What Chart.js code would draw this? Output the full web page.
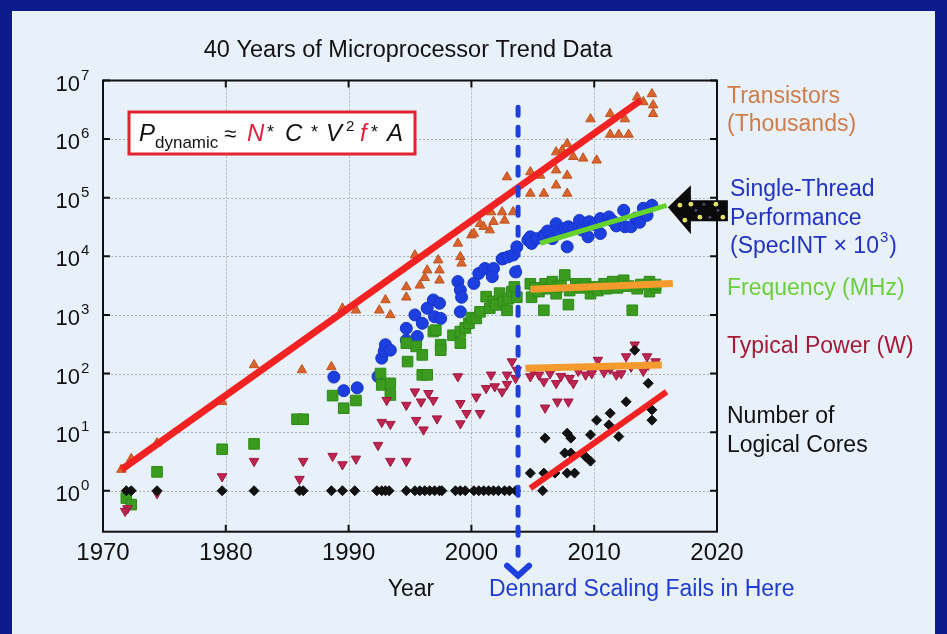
<!DOCTYPE html>
<html>
<head>
<meta charset="utf-8">
<script src="https://cdn.jsdelivr.net/npm/chart.js@4.4.1/dist/chart.umd.min.js"></script>
<style>
html,body{margin:0;padding:0;background:#0d1a8a;}
canvas{display:block;}
</style>
</head>
<body>
<canvas id="c" width="947" height="634"></canvas>
<script>
// axis ticks
const yearTicks = [1970, 1980, 1990, 2000, 2010, 2020];
const decadeExps = [0, 1, 2, 3, 4, 5, 6, 7];

// [year, value]
const transistors = [[1971.5,2.3],[1972.3,3.5],[1974.4,6.5],[1979.7,33],[1982.3,140],[1986.2,115],[1988.6,130],[1989.5,1300],[1990.6,1200],[1992.5,1200],[1993.0,1800],[1993.4,1000],[1994.7,3000],[1994.7,2000],[1995.4,10500],[1995.8,3200],[1996.2,4300],[1996.4,5800],[1997.3,8600],[1997.4,5800],[1997.4,3900],[1998.9,16600],[1999.1,9800],[1999.2,7600],[2000.0,23000],[2000.2,24500],[2000.7,36000],[2001.0,32000],[2001.5,28000],[2001.6,57000],[2001.8,39000],[2002.5,57000],[2002.7,41000],[2003.4,57000],[2002.9,225000],[2004.8,275000],[2004.8,118000],[2005.6,240000],[2005.9,118000],[2006.9,163000],[2006.9,295000],[2006.9,600000],[2007.4,650000],[2007.8,830000],[2007.8,240000],[2007.8,118000],[2008.3,500000],[2009.1,470000],[2009.7,2200000],[2010.2,435000],[2011.3,2700000],[2011.3,1200000],[2012.0,1200000],[2012.5,2200000],[2012.8,1200000],[2013.5,5200000],[2014.0,4300000],[2014.7,5900000],[2014.8,3800000],[2014.8,2700000]];
const singleThread = [[1988.8,87],[1989.6,51],[1990.7,57],[1992.4,89],[1992.7,183],[1992.9,240],[1993.0,310],[1993.4,250],[1994.7,590],[1994.7,370],[1995.4,1000],[1995.6,430],[1996.0,720],[1996.4,1300],[1996.9,1800],[1997.0,930],[1997.4,1580],[1997.5,870],[1998.9,3700],[1999.1,2650],[1999.2,2000],[1999.1,1130],[2000.2,3450],[2000.6,5100],[2001.1,6200],[2001.8,6200],[2001.7,4500],[2002.5,9000],[2002.6,9200],[2003.0,9800],[2003.4,10500],[2003.6,5400],[2003.7,14500],[2004.6,19000],[2004.8,21500],[2004.9,16600],[2005.3,20000],[2005.9,23000],[2006.2,27000],[2006.6,20000],[2006.9,36000],[2007.2,25000],[2007.6,30000],[2007.8,14500],[2007.9,32000],[2008.3,30000],[2008.8,41000],[2009.0,28000],[2009.5,21500],[2009.6,39000],[2010.0,35000],[2010.5,44000],[2010.5,24500],[2011.2,47000],[2011.5,40000],[2011.8,33000],[2012.4,61000],[2012.5,32000],[2013.0,32000],[2013.4,45000],[2013.7,38000],[2014.0,66000],[2014.3,50000],[2014.7,74000]];
const frequency = [[1971.9,0.75],[1972.3,0.58],[1974.4,2.1],[1979.7,5.1],[1982.3,6.3],[1985.8,16.6],[1986.3,16.6],[1988.7,42],[1989.6,25.6],[1990.6,34.7],[1992.6,100],[1992.7,64],[1993.4,68],[1993.4,43],[1994.7,330],[1994.8,160],[1995.5,290],[1996.0,208],[1996.0,95],[1996.4,95],[1996.9,520],[1997.1,550],[1997.5,310],[1997.5,250],[1998.5,450],[1999.1,520],[1999.1,330],[1999.5,600],[1999.8,720],[2000.0,900],[2000.4,870],[2000.7,1130],[2001.2,2050],[2001.5,1300],[2001.8,1700],[2002.0,1480],[2002.3,2350],[2002.6,1700],[2002.9,1200],[2003.0,1900],[2003.3,2500],[2003.5,3000],[2003.7,2000],[2004.8,3400],[2004.9,2000],[2005.2,2900],[2005.5,2500],[2005.9,1200],[2006.0,3400],[2006.3,2800],[2006.6,3700],[2006.9,2300],[2007.0,3000],[2007.3,3200],[2007.6,4800],[2007.9,1500],[2008.0,2600],[2008.5,3400],[2008.9,2900],[2009.3,3400],[2009.7,2300],[2010.0,3000],[2010.3,2600],[2010.8,3400],[2011.0,2800],[2011.5,3700],[2011.9,2900],[2012.4,3900],[2012.8,3100],[2013.1,1200],[2013.5,2800],[2013.8,3300],[2014.5,3700],[2014.5,2500],[2015.0,2900],[2015.0,3300]];
const power = [[1972.0,0.5],[1971.8,0.45],[1974.4,0.9],[1979.7,1.75],[1982.3,3.2],[1986.0,1.58],[1986.3,3.2],[1988.7,3.9],[1989.5,2.8],[1990.6,3.5],[1992.4,6],[1992.7,14.8],[1993.4,13.7],[1993.1,35],[1993.4,3.2],[1994.7,3.2],[1994.7,29],[1995.4,49],[1995.5,16],[1995.9,33],[1996.1,11],[1996.5,46],[1996.9,35],[1997.2,17],[1998.9,89],[1999.1,31],[1999.1,14],[1999.6,21],[2000.4,40],[2000.7,21],[2001.2,56],[2001.6,95],[2001.9,60],[2002.5,49],[2002.9,95],[2002.9,66],[2003.3,160],[2003.6,83],[2003.7,115],[2004.8,89],[2005.0,110],[2005.5,95],[2005.9,73],[2006.0,26],[2006.4,100],[2006.9,68],[2007.0,33],[2007.3,90],[2007.9,33],[2008.0,83],[2008.3,68],[2008.7,110],[2009.3,95],[2009.8,100],[2010.3,170],[2010.8,105],[2011.3,120],[2011.8,95],[2012.2,100],[2012.6,195],[2013.0,130],[2013.3,310],[2014.0,110],[2014.3,195],[2014.4,140],[2015.0,160]];
const cores = [[1971.9,1],[1972.3,1],[1974.4,1],[1979.7,1],[1982.3,1],[1986.0,1],[1986.3,1],[1988.6,1],[1989.5,1],[1990.5,1],[1992.3,1],[1992.7,1],[1993.0,1],[1993.3,1],[1994.7,1],[1995.4,1],[1995.8,1],[1996.2,1],[1996.6,1],[1997.0,1],[1997.4,1],[1997.6,1],[1998.7,1],[1999.1,1],[1999.5,1],[2000.2,1],[2000.6,1],[2001.0,1],[2001.4,1],[2001.8,1],[2002.2,1],[2002.7,1],[2003.1,1],[2003.6,1],[2005.8,1],[2004.8,2],[2005.9,2],[2006.8,2],[2007.8,2],[2008.4,2],[2007.6,4.4],[2008.1,4.4],[2009.3,3.8],[2009.7,3.2],[2006.0,7.9],[2007.8,9.6],[2008.1,7.9],[2009.7,9],[2010.2,16],[2011.2,13.3],[2011.3,21],[2012.0,8.4],[2012.6,33],[2013.3,250],[2014.4,68],[2014.7,24],[2014.7,16]];

// trend lines
const transTrend = [[1971.5,2.3],[2013.8,4.6e6]];
const threadTrend = [[2005.6,16700],[2015.9,74000]];
const freqTrend = [[2004.8,2750],[2016.4,3450]];
const powerTrend = [[2004.4,123],[2015.5,140]];
const coreTrend = [[2004.8,1.1],[2015.9,49]];

const dennardYear = 2003.8;
const dennardTop = 3.5e6;
const arrowTip = [2016.0, 6.9e4];

const pts = a => a.map(p => ({x: p[0], y: p[1]}));
const FONT = '"Liberation Sans", Arial, Helvetica, sans-serif';

function scatter(data, style, color, edge, r, rot, order) {
  return {type: 'scatter', data: pts(data), pointStyle: style, pointRadius: r, pointRotation: rot || 0,
    backgroundColor: color, borderColor: edge, pointBorderWidth: 1, order: order};
}
function trend(data, color, w) {
  return {type: 'line', data: pts(data), borderColor: color, borderWidth: w, pointRadius: 0,
    showLine: true, fill: false, order: 0, borderCapStyle: 'butt'};
}

function txt(ctx, s, x, y, font, color, align) {
  ctx.font = font; ctx.fillStyle = color; ctx.textAlign = align || 'left'; ctx.textBaseline = 'alphabetic';
  ctx.fillText(s, x, y);
  return ctx.measureText(s).width;
}

const decor = {
  id: 'decor',
  beforeDraw(chart) {
    const {ctx, chartArea: a, scales: {x, y}} = chart;
    ctx.save();
    ctx.fillStyle = '#0d1a8a';
    ctx.fillRect(0, 0, chart.width, chart.height);
    ctx.fillStyle = '#e8f1fa';
    ctx.fillRect(12, 11, chart.width - 24, chart.height - 11);
    // dotted grid
    ctx.strokeStyle = '#a9b3bd'; ctx.lineWidth = 1; ctx.setLineDash([2, 2]);
    ctx.beginPath();
    yearTicks.slice(1, -1).forEach(t => { const px = Math.round(x.getPixelForValue(t)) + 0.5; ctx.moveTo(px, a.top); ctx.lineTo(px, a.bottom); });
    decadeExps.slice(0, -1).forEach(e => { const py = Math.round(y.getPixelForValue(Math.pow(10, e))) + 0.5; ctx.moveTo(a.left, py); ctx.lineTo(a.right, py); });
    ctx.stroke();
    ctx.restore();
  },
  afterDatasetsDraw(chart) {
    const {ctx, chartArea: a, scales: {x, y}} = chart;
    ctx.save();
    // frame + inner ticks
    ctx.strokeStyle = '#111'; ctx.lineWidth = 2;
    ctx.strokeRect(a.left, a.top, a.right - a.left, a.bottom - a.top);
    ctx.beginPath();
    yearTicks.slice(1, -1).forEach(t => { const px = x.getPixelForValue(t);
      ctx.moveTo(px, a.top); ctx.lineTo(px, a.top + 7); ctx.moveTo(px, a.bottom); ctx.lineTo(px, a.bottom - 7); });
    decadeExps.forEach(e => { const py = y.getPixelForValue(Math.pow(10, e));
      ctx.moveTo(a.left, py); ctx.lineTo(a.left + 7, py); ctx.moveTo(a.right, py); ctx.lineTo(a.right - 7, py); });
    ctx.stroke();
    // tick labels
    yearTicks.forEach(t => txt(ctx, String(t), x.getPixelForValue(t), a.bottom + 28, '24px ' + FONT, '#111', 'center'));
    decadeExps.forEach(e => { const py = y.getPixelForValue(Math.pow(10, e));
      txt(ctx, '10', 80, py + 10, '22px ' + FONT, '#111', 'right');
      txt(ctx, String(e), 81, py - 1, '15px ' + FONT, '#111', 'left'); });
    // title & axis caption
    txt(ctx, '40 Years of Microprocessor Trend Data', 408, 57, '23.5px ' + FONT, '#111', 'center');
    txt(ctx, 'Year', 411, 596, '23px ' + FONT, '#111', 'center');
    txt(ctx, 'Dennard Scaling Fails in Here', 489, 596, '23px ' + FONT, '#1f3bd2', 'left');
    // right-hand labels
    const f = '23px ' + FONT;
    txt(ctx, 'Transistors', 727, 103, f, '#cf7c4a');
    txt(ctx, '(Thousands)', 727, 131, f, '#cf7c4a');
    txt(ctx, 'Single-Thread', 730, 196, f, '#2232c4');
    txt(ctx, 'Performance', 730, 225, f, '#2232c4');
    let w = txt(ctx, '(SpecINT \u00d7 10', 730, 253, f, '#2232c4');
    let w2 = txt(ctx, '3', 730 + w + 1, 242, '15px ' + FONT, '#2232c4');
    txt(ctx, ')', 730 + w + w2 + 2, 253, f, '#2232c4');
    txt(ctx, 'Frequency (MHz)', 727, 295, f, '#6ccf3a');
    txt(ctx, 'Typical Power (W)', 727, 353, f, '#a61a36');
    txt(ctx, 'Number of', 727, 423, f, '#111');
    txt(ctx, 'Logical Cores', 727, 452, f, '#111');
    // formula box
    ctx.fillStyle = '#ffffff'; ctx.fillRect(129, 112, 286, 42);
    ctx.strokeStyle = '#e0232f'; ctx.lineWidth = 3; ctx.strokeRect(129, 112, 286, 42);
    const it = 'italic 24px ' + FONT, red = '#e3203c';
    txt(ctx, 'P', 139, 141, it, '#111');
    txt(ctx, 'dynamic', 155, 148, '17px ' + FONT, '#111');
    txt(ctx, '\u2248', 224, 141, '22px ' + FONT, '#111');
    txt(ctx, 'N', 247, 141, it, red);
    txt(ctx, '*', 267, 138, '18px ' + FONT, '#111');
    txt(ctx, 'C', 285, 141, it, '#111');
    txt(ctx, '*', 311, 138, '18px ' + FONT, '#111');
    txt(ctx, 'V', 326, 141, it, '#111');
    txt(ctx, '2', 346, 131, '15px ' + FONT, '#111');
    txt(ctx, 'f', 360, 141, it, red);
    txt(ctx, '*', 371, 138, '18px ' + FONT, '#111');
    txt(ctx, 'A', 387, 141, it, '#111');
    // Dennard dashed line + arrowhead
    const dx = x.getPixelForValue(dennardYear), dTop = y.getPixelForValue(dennardTop), dBot = a.bottom + 24;
    ctx.strokeStyle = '#1d3fe0'; ctx.lineWidth = 5; ctx.lineCap = 'round'; ctx.setLineDash([8, 12]);
    ctx.beginPath(); ctx.moveTo(dx, dTop); ctx.lineTo(dx, dBot); ctx.stroke();
    ctx.setLineDash([]); ctx.lineWidth = 6; ctx.lineJoin = 'miter';
    ctx.beginPath(); ctx.moveTo(dx - 11, dBot + 10); ctx.lineTo(dx, dBot + 20); ctx.lineTo(dx + 11, dBot + 10); ctx.stroke();
    // pointing arrow
    const tx = x.getPixelForValue(arrowTip[0]), ty = y.getPixelForValue(arrowTip[1]);
    ctx.fillStyle = '#0b0b0b';
    ctx.beginPath();
    ctx.moveTo(tx, ty); ctx.lineTo(tx + 23, ty - 22); ctx.lineTo(tx + 23, ty - 7); ctx.lineTo(tx + 60, ty - 7);
    ctx.lineTo(tx + 60, ty + 14); ctx.lineTo(tx + 23, ty + 14); ctx.lineTo(tx + 23, ty + 27); ctx.closePath(); ctx.fill();
    ctx.fillStyle = '#e6df6a';
    [[12,-2],[23,-3],[48,-3],[17,13],[32,10],[55,10]].forEach(d => { ctx.beginPath(); ctx.arc(tx + d[0], ty + d[1], 2.4, 0, Math.PI * 2); ctx.fill(); });
    ctx.fillStyle = '#4a4a70';
    [[36,-3],[42,10],[28,3],[50,3]].forEach(d => { ctx.beginPath(); ctx.arc(tx + d[0], ty + d[1], 1.5, 0, Math.PI * 2); ctx.fill(); });
    ctx.restore();
  }
};

new Chart(document.getElementById('c'), {
  type: 'scatter',
  data: {datasets: [
    trend(transTrend, '#f22222', 7),
    trend(threadTrend, '#66d22c', 5),
    trend(freqTrend, '#f59a2c', 7),
    trend(powerTrend, '#f59a2c', 7),
    trend(coreTrend, '#f22222', 6),
    scatter(cores, 'rectRot', '#111111', '#111111', 5, 0, 1),
    scatter(power, 'triangle', '#bd2450', '#a01a40', 5.5, 180, 2),
    scatter(frequency, 'rect', '#3a9b1e', '#2f8a17', 7.5, 0, 3),
    scatter(singleThread, 'circle', '#1d3fe0', '#1634c8', 6, 0, 4),
    scatter(transistors, 'triangle', '#d8632c', '#c0541f', 5.5, 0, 5)
  ]},
  options: {
    responsive: false, animation: false,
    layout: {padding: {left: 103, right: 230, top: 80.5, bottom: 102.3}},
    scales: {
      x: {type: 'linear', min: 1970, max: 2020, display: false},
      y: {type: 'logarithmic', min: 0.2, max: 1e7, display: false}
    },
    plugins: {legend: {display: false}, tooltip: {enabled: false}, title: {display: false}}
  },
  plugins: [decor]
});
</script>
</body>
</html>
